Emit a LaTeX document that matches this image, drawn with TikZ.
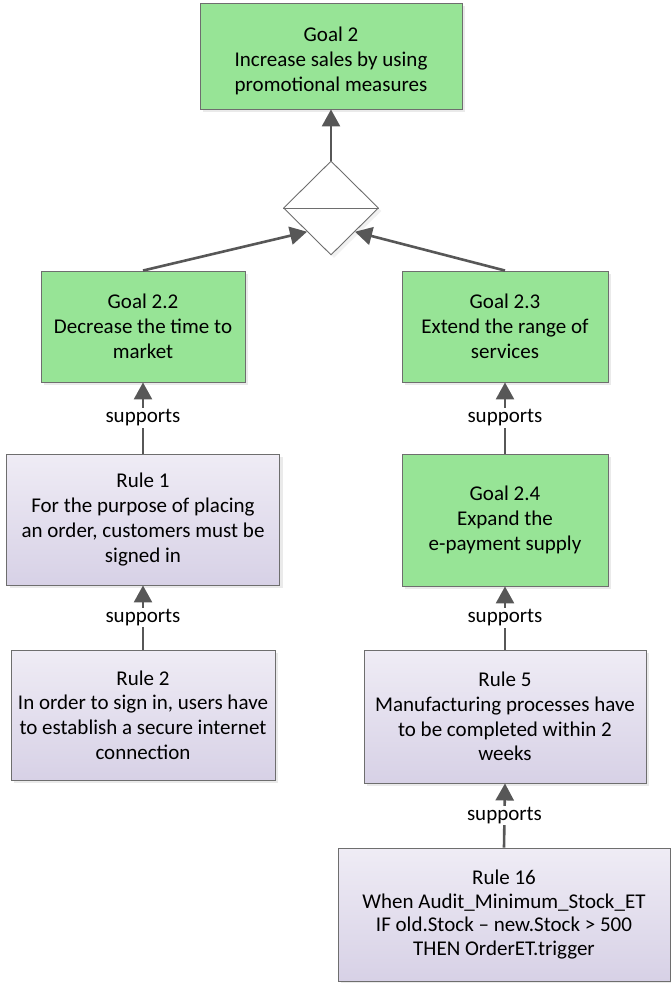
\documentclass[tikz,border=0pt]{standalone}
\usepackage{fontspec}
\setmainfont{Carlito}
\usetikzlibrary{arrows.meta,shapes.geometric,shadows}
\definecolor{goalfill}{HTML}{97E496}
\definecolor{rulestop}{HTML}{EFECF5}
\definecolor{rulebot}{HTML}{D7D1E6}
\definecolor{edgegray}{HTML}{6E6E6E}
\definecolor{arrgray}{HTML}{575757}
\tikzset{
  txt/.style={align=center, inner sep=0pt, font=\fontsize{21}{24.8}\selectfont},
  box/.style={txt, draw=edgegray, line width=0.9pt,
    drop shadow={shadow xshift=3pt, shadow yshift=-3pt, opacity=0.18, fill=black!45}},
  goal/.style={box, fill=goalfill},
  rulebox/.style={box, top color=rulestop, bottom color=rulebot},
  arr/.style={draw=arrgray, line width=2.6pt, -{Triangle[length=17pt,width=18pt]}},
  lbl/.style={fill=white, inner sep=1.5pt, font=\fontsize{21}{24}\selectfont}
}
\begin{document}
\begin{tikzpicture}[x=1pt,y=-1pt]
\useasboundingbox (0,0) rectangle (670,983);

% goals
\node[goal, minimum width=262pt, minimum height=106pt] (g2) at (331,56) {};
\node[txt] (g2text) at (331,61)
  {Goal 2\\Increase sales by using\\promotional measures};
\node[goal, minimum width=204pt, minimum height=111pt] (g22) at (143,326.5)
  {Goal 2.2\\Decrease the time to\\market};
\node[goal, minimum width=206pt, minimum height=111pt] (g23) at (505,326.5)
  {Goal 2.3\\Extend the range of\\services};
\node[goal, minimum width=206pt, minimum height=132pt] (g24) at (505,520)
  {Goal 2.4\\Expand the\\e-payment supply};

% rules
\node[rulebox, minimum width=273pt, minimum height=131pt] (r1) at (143,519.5)
  {Rule 1\\For the purpose of placing\\an order, customers must be\\signed in};
\node[rulebox, minimum width=264pt, minimum height=130pt] (r2) at (143,715)
  {Rule 2\\In order to sign in, users have\\to establish a secure internet\\connection};
\node[rulebox, minimum width=282pt, minimum height=133pt] (r5) at (505,716.5)
  {Rule 5\\Manufacturing processes have\\to be completed within 2\\weeks};
\node[rulebox, minimum width=332pt, minimum height=133pt,
  font=\fontsize{21}{23.5}\selectfont] (r16) at (504,914.5)
  {Rule 16\\When Audit\_Minimum\_Stock\_ET\\IF old.Stock -- new.Stock > 500\\THEN OrderET.trigger};

% AND refinement diamond
\node[diamond, draw=edgegray, line width=0.9pt, fill=white, minimum width=95pt,
  minimum height=94pt, inner sep=0pt, aspect=1,
  drop shadow={shadow xshift=3pt, shadow yshift=-3pt, opacity=0.12, fill=black!45}] (dia) at (331,208) {};
\draw[edgegray, line width=0.9pt] (dia.west) -- (dia.east);

% connectors
\draw[arr] (dia.north) -- (g2.south);
\draw[arr] (g22.north) -- (dia.south west);
\draw[arr] (g23.north) -- (dia.south east);
\draw[arr] (r1.north) -- node[lbl] {supports} (g22.south);
\draw[arr] (r2.north) -- node[lbl] {supports} (r1.south);
\draw[arr] (g24.north) -- node[lbl] {supports} (g23.south);
\draw[arr] (r5.north) -- node[lbl] {supports} (g24.south);
\draw[arr] (r16.north) -- node[lbl] {supports} (r5.south);
\end{tikzpicture}
\end{document}
